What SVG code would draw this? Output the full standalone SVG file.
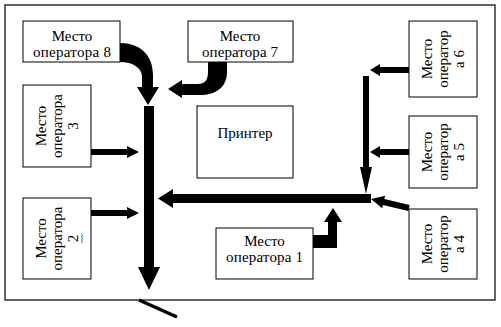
<svg xmlns="http://www.w3.org/2000/svg" width="501" height="327" viewBox="0 0 501 327">
<style>
.box{fill:#fff;stroke:#000;stroke-width:1}
.t{font-family:"Liberation Serif","Times New Roman",serif;font-size:15px;fill:#000;text-anchor:middle}
.c{fill:#000;stroke:none}
</style>
<rect x="0" y="0" width="501" height="327" fill="#fff"/>
<rect x="5" y="5" width="490" height="295" fill="#fff" stroke="#333" stroke-width="1.5"/>
<g id="connectors">
  <path class="c" d="M120,43 C140,43 153,55 153,75 L153,87 L159,87 L148,105 L137,87 L142,87 L142,77 C142,68 133,62 120,62 Z"/>
  <path class="c" d="M208,62 L227,62 L227,72 C227,88 215,95 200,95 L182,95 L182,98 L168,89 L182,80 L182,84 L198,84 C205,84 208,80 208,72 Z"/>
  <polygon class="c" points="144,106 154,106 154,267 160,267 149,290 138,267 144,267"/>
  <polygon class="c" points="91,149 127,149 127,146 139,152 127,158 127,155 91,155"/>
  <polygon class="c" points="91,210 127,210 127,207 139,213 127,219 127,216 91,216"/>
  <polygon class="c" points="371,194 173,194 173,189 158,198.5 173,208 173,203 371,203"/>
  <polygon class="c" points="363,76 369,76 369,167 372,167 366,194 360,167 363,167"/>
  <polygon class="c" points="409,67 380,67 380,64 370,70 380,76 380,73 409,73"/>
  <polygon class="c" points="409,149 380,149 380,146 370,152 380,158 380,155 409,155"/>
  <polygon class="c" points="371,199 385.2,195.7 384.3,199.1 409.7,205.1 408.3,210.9 383,204.9 382.2,208.3"/>
  <path class="c" d="M313,235 L328,235 L328,222 L324,222 L333,208 L342,222 L337,222 L337,248 L313,248 Z"/>
  <line x1="139" y1="300" x2="177" y2="317" stroke="#000" stroke-width="3.5"/>
</g>
<g id="op8">
  <rect class="box" x="23" y="21" width="97" height="41"/>
  <text class="t" x="72" y="41">Место</text>
  <text class="t" x="72" y="57" textLength="78" lengthAdjust="spacing">оператора 8</text>
</g>
<g id="op7">
  <rect class="box" x="188" y="21" width="105" height="41"/>
  <text class="t" x="240" y="41">Место</text>
  <text class="t" x="240" y="57" textLength="76" lengthAdjust="spacing">оператора 7</text>
</g>
<g id="op3">
  <rect class="box" x="23" y="85" width="68" height="82"/>
  <text class="t" transform="translate(57,126) rotate(-90)"><tspan x="0" y="-11">Место</tspan><tspan x="0" y="5">оператора</tspan><tspan x="0" y="21">3</tspan></text>
</g>
<g id="op2">
  <rect class="box" x="23" y="198" width="68" height="81"/>
  <text class="t" transform="translate(57,238.5) rotate(-90)"><tspan x="0" y="-11">Место</tspan><tspan x="0" y="5">оператора</tspan><tspan x="0" y="21">2</tspan></text>
  <polyline points="81,234 83,235.5 81,237 83,238.5 81,240 83,241.5 81,243" fill="none" stroke="#3a3" stroke-width="1"/>
</g>
<g id="printer">
  <rect class="box" x="197" y="106" width="96" height="72"/>
  <text class="t" x="245" y="138">Принтер</text>
</g>
<g id="op1">
  <rect class="box" x="216" y="228" width="97" height="51"/>
  <text class="t" x="264.5" y="246">Место</text>
  <text class="t" x="264.5" y="262" textLength="77" lengthAdjust="spacing">оператора 1</text>
</g>
<g id="op6">
  <rect class="box" x="409" y="21" width="68" height="76"/>
  <text class="t" transform="translate(443,59) rotate(-90)"><tspan x="0" y="-11">Место</tspan><tspan x="0" y="5">оператор</tspan><tspan x="0" y="21">а 6</tspan></text>
</g>
<g id="op5">
  <rect class="box" x="409" y="116" width="68" height="72"/>
  <text class="t" transform="translate(443,152) rotate(-90)"><tspan x="0" y="-11">Место</tspan><tspan x="0" y="5">оператор</tspan><tspan x="0" y="21">а 5</tspan></text>
</g>
<g id="op4">
  <rect class="box" x="409" y="209" width="68" height="70"/>
  <text class="t" transform="translate(443,244) rotate(-90)"><tspan x="0" y="-11">Место</tspan><tspan x="0" y="5">оператор</tspan><tspan x="0" y="21">а 4</tspan></text>
</g>
</svg>
